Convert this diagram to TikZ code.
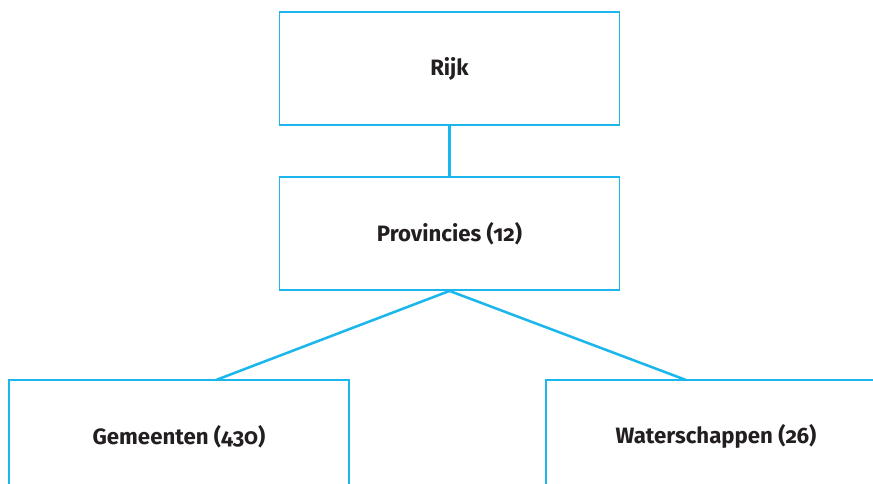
\documentclass[tikz,border=0pt]{standalone}
\usepackage{fontspec}
\setmainfont{Fira Sans}[Numbers=OldStyle]
\usetikzlibrary{positioning}
\definecolor{lijnblauw}{HTML}{1BB6EC}
\definecolor{tekstgrijs}{HTML}{231F20}

\begin{document}
\begin{tikzpicture}[
  x=0.025cm,y=-0.025cm,
  laag/.style={draw=lijnblauw,line width=1.3pt,fill=white,minimum width=8.5cm,minimum height=2.825cm,
    inner sep=0pt,font=\fontsize{15.8}{18}\selectfont\bfseries,text=tekstgrijs},
  verbinding/.style={draw=lijnblauw,line width=1.8pt}
]
\useasboundingbox (0,0) rectangle (873,484);
\clip (0,0) rectangle (873,484);

\node[laag] (rijk) at (449.5,68.5) {Rijk};
\node[laag] (prov) at (449.5,233.5) {Provincies (12)};
\node[laag] (gem) at (179,436.5) {Gemeenten (430)};
\node[laag] (water) at (716,436.5) {Waterschappen (26)};

\coordinate (gemtop) at (216,380);
\coordinate (watertop) at (686,380);

\draw[verbinding] (rijk.south) -- (prov.north);
\draw[verbinding] (prov.south) -- (gemtop);
\draw[verbinding] (prov.south) -- (watertop);
\end{tikzpicture}
\end{document}
